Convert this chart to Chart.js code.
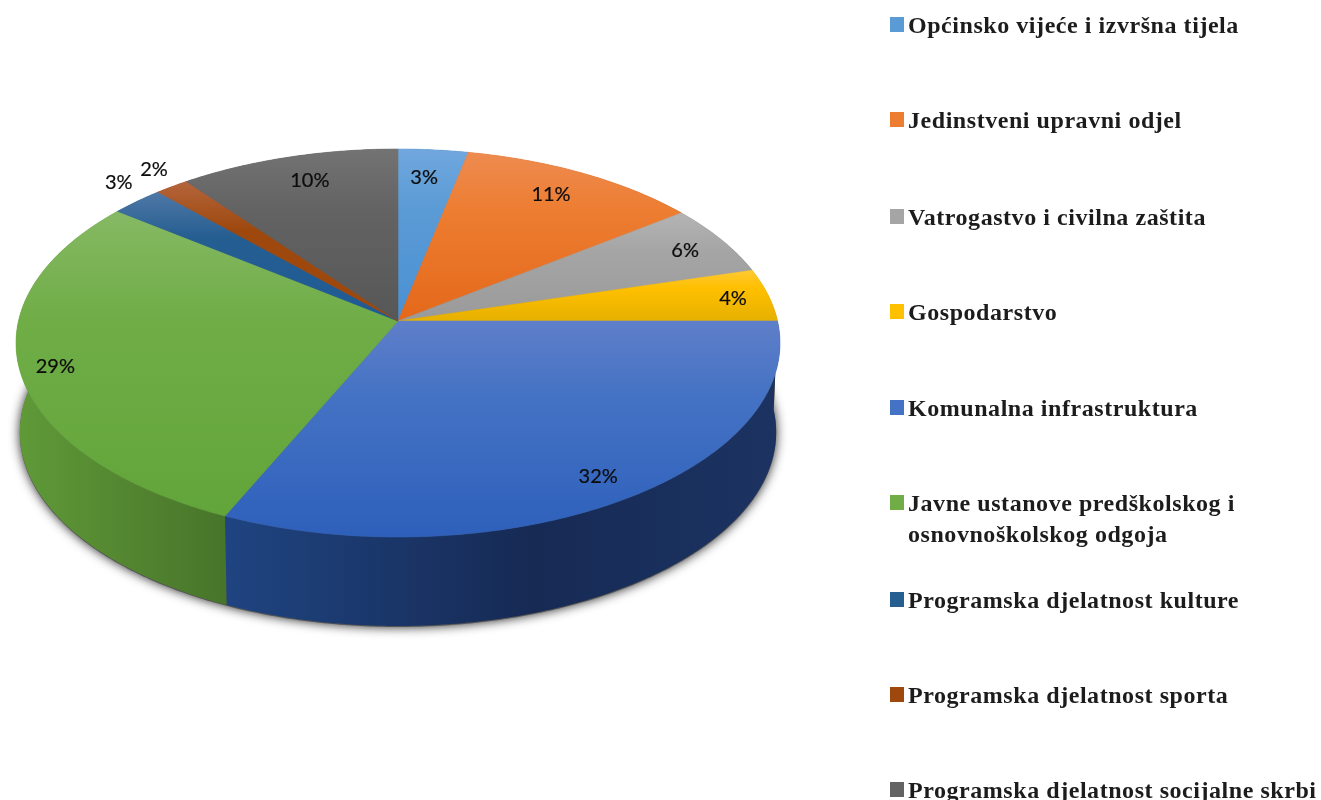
<!DOCTYPE html>
<html>
<head>
<meta charset="utf-8">
<title>Pie chart</title>
<script src="https://cdn.jsdelivr.net/npm/chart.js@4"></script>
<style>
  html, body { margin: 0; background: #fff; overflow: hidden; }
  #wrap { position: relative; width: 1321px; height: 800px; overflow: hidden; }
  #pie { position: absolute; left: 0; top: 0; filter: blur(0.5px); }
  .item {
    position: absolute; left: 890px;
    font: bold 24px/31px "Liberation Serif", serif;
    letter-spacing: 0.55px; color: #1c1c1c; white-space: nowrap; filter: blur(0.6px);
  }
  .item i { position: absolute; left: 0; top: 7px; width: 14px; height: 15px; }
  .item span { display: block; margin-left: 18px; }
</style>
</head>
<body>
<div id="wrap">
  <canvas id="pie" width="1321" height="800"></canvas>
  <div id="legend"></div>
</div>
<script>
const categories = [
  "Općinsko vijeće i izvršna tijela",
  "Jedinstveni upravni odjel",
  "Vatrogastvo i civilna zaštita",
  "Gospodarstvo",
  "Komunalna infrastruktura",
  "Javne ustanove predškolskog i\nosnovnoškolskog odgoja",
  "Programska djelatnost kulture",
  "Programska djelatnost sporta",
  "Programska djelatnost socijalne skrbi"
];
const values = [3.3, 11.4, 5.9, 4.4, 31.7, 28.8, 2.5, 1.6, 10.4];

const colors = ["#5b9bd5", "#ed7d31", "#a5a5a5", "#ffc000", "#4472c4", "#70ad47", "#255e91", "#9e480e", "#636363"];
const faceTop = ["#70a7de", "#ee8b50", "#b4b4b4", "#ffc934", "#5f7fc9", "#86b964", "#4f78a6", "#b5653c", "#737373"];
const faceBottom = ["#4a90d4", "#e4681a", "#9a9a9a", "#e6b000", "#2e60bb", "#62a53a", "#1e5a96", "#9e480e", "#575757"];
const wallLeft = ["#3f75a8", "#b85c1e", "#7a7a7a", "#bd9000", "#1f4481", "#5f9a38", "#1b4670", "#74350a", "#4a4a4a"];
const wallMiddle = ["#376688", "#a3521a", "#6c6c6c", "#a88000", "#162a54", "#538530", "#183e62", "#672f09", "#404040"];
const wallRight = ["#2f5a84", "#8f4717", "#5e5e5e", "#927000", "#1c3362", "#47752a", "#153655", "#5a2908", "#383838"];

// where each percent label sits: out along its slice (1 = the rim) and a small turn in degrees
const labelRadius = [0.825, 0.834, 0.879, 0.903, 0.888, 0.909, 1.126, 1.122, 0.842];
const labelTurn = [-0.7, -0.9, 0.4, 0.2, 0, -0.6, 2.3, 1.3, 1.2];
// vertical middle of the swatch of each legend row
const legendRows = [25, 120, 217, 312, 408, 503, 600, 695, 790];

const apexY = 321;
const depth = 89;
const flatten = 0.5013;
const perspective = -0.1134;
const widthScale = 0.9935;
const baseScale = 0.99;

// circle point -> tilted disc, nearer side is drawn bigger
function project(arc, angle, r) {
  const u = Math.cos(angle) * r;
  const v = Math.sin(angle) * r;
  const w = 1 + perspective * v;
  return {
    x: arc.x + arc.outerRadius * widthScale * u / w,
    y: apexY + arc.outerRadius * flatten * v / w
  };
}

function rimPoints(arc, from, to) {
  const steps = Math.max(2, Math.ceil((to - from) / 0.01));
  const pts = [];
  for (let i = 0; i <= steps; i++) {
    pts.push(project(arc, from + (to - from) * i / steps, 1));
  }
  return pts;
}

// same rim, lower down and a touch narrower
function basePoint(arc, p) {
  return { x: arc.x + (p.x - arc.x) * baseScale, y: p.y + depth };
}

function drawBaseShadow(ctx, arc) {
  const pts = rimPoints(arc, 0, Math.PI * 2).map(p => basePoint(arc, p));
  ctx.save();
  ctx.shadowColor = "rgba(0,0,0,0.85)";
  ctx.shadowBlur = 11;
  ctx.fillStyle = "#555";
  ctx.beginPath();
  pts.forEach((p, i) => i ? ctx.lineTo(p.x, p.y + 1) : ctx.moveTo(p.x, p.y + 1));
  ctx.closePath();
  ctx.fill();
  ctx.restore();
}

function drawWall(ctx, arc, i) {
  const pts = rimPoints(arc, arc.startAngle, arc.endAngle);
  const xs = pts.map(p => p.x);
  const grad = ctx.createLinearGradient(Math.min(...xs), 0, Math.max(...xs), 0);
  grad.addColorStop(0, wallLeft[i]);
  grad.addColorStop(0.55, wallMiddle[i]);
  grad.addColorStop(1, wallRight[i]);
  ctx.fillStyle = grad;
  ctx.beginPath();
  pts.forEach((p, k) => k ? ctx.lineTo(p.x, p.y) : ctx.moveTo(p.x, p.y));
  pts.slice().reverse().forEach(p => {
    const b = basePoint(arc, p);
    ctx.lineTo(b.x, b.y);
  });
  ctx.closePath();
  ctx.fill();
}

function drawFace(ctx, arc, i) {
  const pts = rimPoints(arc, arc.startAngle, arc.endAngle);
  const ys = pts.map(p => p.y).concat(apexY);
  const grad = ctx.createLinearGradient(0, Math.min(...ys), 0, Math.max(...ys));
  grad.addColorStop(0, faceTop[i]);
  grad.addColorStop(0.35, colors[i]);
  grad.addColorStop(1, faceBottom[i]);
  ctx.fillStyle = grad;
  ctx.strokeStyle = grad;
  ctx.lineWidth = 0.6;
  ctx.beginPath();
  ctx.moveTo(arc.x, apexY);
  pts.forEach(p => ctx.lineTo(p.x, p.y));
  ctx.closePath();
  ctx.fill();
  ctx.stroke();
}

const pie3d = {
  id: "pie3d",
  beforeDatasetDraw(chart, args) {
    const ctx = chart.ctx;
    const arcs = args.meta.data;
    drawBaseShadow(ctx, arcs[0]);
    // back walls first, the front ones cover them
    const order = arcs.map((a, i) => i).sort((a, b) =>
      Math.sin((arcs[a].startAngle + arcs[a].endAngle) / 2) - Math.sin((arcs[b].startAngle + arcs[b].endAngle) / 2));
    order.forEach(i => drawWall(ctx, arcs[i], i));
    arcs.forEach((arc, i) => drawFace(ctx, arc, i));
    return false;
  },
  afterDatasetsDraw(chart) {
    const ctx = chart.ctx;
    const arcs = chart.getDatasetMeta(0).data;
    ctx.save();
    ctx.font = '20px Lato, sans-serif';
    ctx.fillStyle = "#0c0c0c";
    ctx.strokeStyle = "#0c0c0c";
    ctx.lineWidth = 0.2;
    ctx.textAlign = "center";
    ctx.textBaseline = "middle";
    arcs.forEach((arc, i) => {
      const mid = (arc.startAngle + arc.endAngle) / 2 + labelTurn[i] * Math.PI / 180;
      const p = project(arc, mid, labelRadius[i]);
      const text = Math.round(values[i]) + "%";
      ctx.fillText(text, p.x, p.y);
      ctx.strokeText(text, p.x, p.y);
    });
    ctx.restore();
  }
};

new Chart(document.getElementById("pie"), {
  type: "pie",
  data: {
    labels: categories,
    datasets: [{ data: values, backgroundColor: colors, borderWidth: 0, hoverOffset: 0 }]
  },
  options: {
    responsive: false,
    animation: false,
    layout: { padding: { left: 16, right: 541, top: 36, bottom: 0 } },
    plugins: { legend: { display: false }, tooltip: { enabled: false } }
  },
  plugins: [pie3d]
});

// legend sits in plain html because its rows are not evenly spaced
const legend = document.getElementById("legend");
categories.forEach((name, i) => {
  const item = document.createElement("div");
  item.className = "item";
  item.style.top = (legendRows[i] - 15) + "px";
  const box = document.createElement("i");
  box.style.background = colors[i];
  item.appendChild(box);
  name.split("\n").forEach(line => {
    const span = document.createElement("span");
    span.textContent = line;
    item.appendChild(span);
  });
  legend.appendChild(item);
});
</script>
</body>
</html>
